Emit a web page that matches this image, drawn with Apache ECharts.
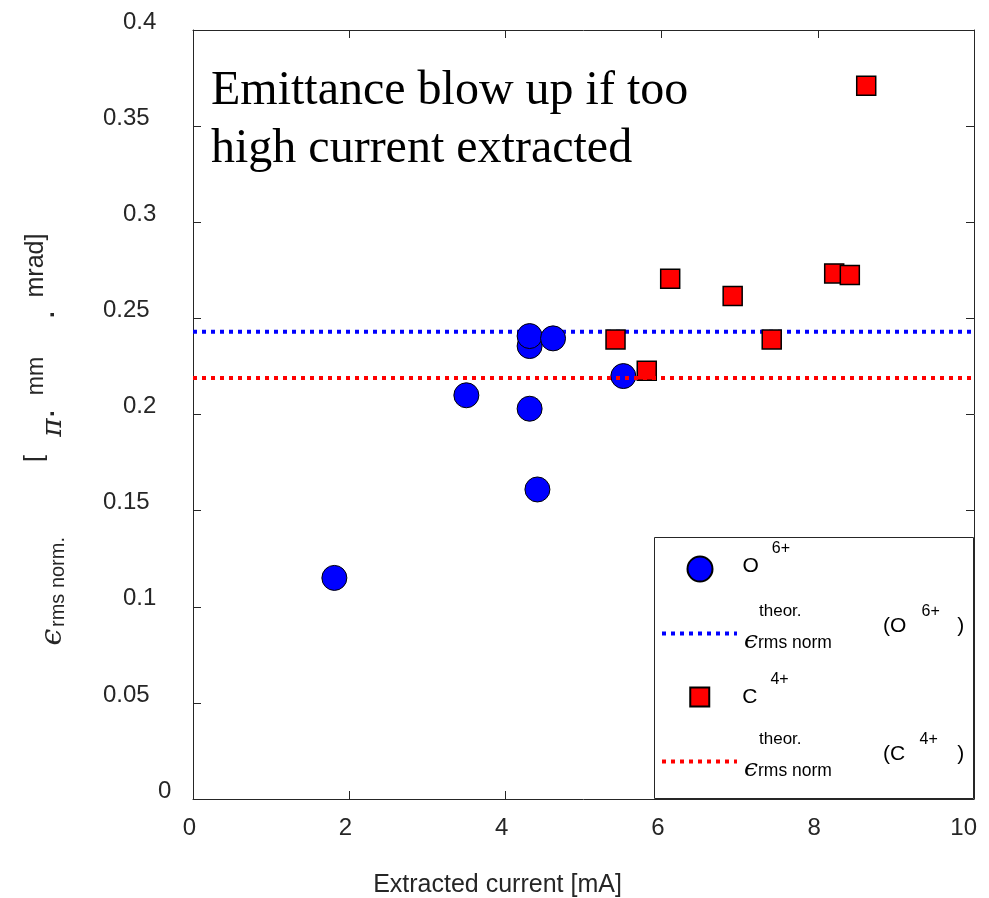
<!DOCTYPE html>
<html>
<head>
<meta charset="utf-8">
<title>Emittance vs extracted current</title>
<script src="https://cdn.jsdelivr.net/npm/echarts@6/dist/echarts.min.js"></script>
<style>
  html, body { margin: 0; padding: 0; background: #ffffff; }
  #chart { width: 989px; height: 898px; }
</style>
</head>
<body>
<div id="chart"></div>
<script>
// ---- data ----
const xRange = [0, 10];
const xTickLabels = ['0', '2', '4', '6', '8', '10'];
const yTickLabels = ['0', '0.05', '0.1', '0.15', '0.2', '0.25', '0.3', '0.35', '0.4'];

// O6+ beam: extracted current [mA] and measured normalised rms emittance
const oCurrent   = [1.81, 3.50, 4.31, 4.31, 4.61, 4.31, 4.41, 5.51];
const oEmittance = [0.115, 0.210, 0.2356, 0.2408, 0.2396, 0.203, 0.161, 0.220];

// C4+ beam
const cCurrent   = [5.41, 5.81, 6.11, 6.91, 7.41, 8.21, 8.41, 8.62];
const cEmittance = [0.239, 0.2227, 0.2706, 0.2616, 0.239, 0.2734, 0.2725, 0.371];

// theoretical normalised rms emittance for each ion
const theoryO = 0.243;
const theoryC = 0.219;

// ---- helpers ----
const SANS = 'Liberation Sans, Arial, Helvetica, sans-serif';
const SERIF = 'Liberation Serif, Times New Roman, serif';
const MATH = 'DejaVu Serif, serif';
const INK = '#262626';

const pairs = (xs, ys) => xs.map((x, i) => [x, ys[i]]);
const flatLine = (v) => xRange.map((x) => [x, v]);

// legend entry for a marker series: ion symbol with a raised charge state
function markerLegend(item, main, sup, top, left, itemHeight, padBottom) {
  return {
    data: [item], orient: 'vertical', left: left, top: top, padding: 0,
    itemWidth: 75, itemHeight: itemHeight, selectedMode: false, z: 6,
    formatter: () => '{m|' + main + '}{s|' + sup + '}',
    textStyle: {
      padding: [0, 0, padBottom, 0],
      rich: {
        m: { fontFamily: SANS, fontSize: 21, color: '#000', lineHeight: 36, verticalAlign: 'bottom' },
        s: { fontFamily: SANS, fontSize: 16, color: '#000', lineHeight: 16, verticalAlign: 'top', padding: [0, 0, 0, 13] }
      }
    }
  };
}

// legend entry for a theory line: epsilon with super/subscripts and the ion in brackets
function theoryLegend(name, ion, sup, top, supGap, closeGap) {
  return {
    data: [{ name: name, itemStyle: { opacity: 0 } }],
    orient: 'vertical', left: 660, top: top, padding: 0,
    itemWidth: 75, itemHeight: 25, selectedMode: false, z: 6,
    lineStyle: { width: 4, type: [4, 5] },
    formatter: () => '{th|theor.}{s|' + sup + '}\n{m1|(' + ion + '}{m2|)}\n{e|ϵ}{r|rms norm}',
    textStyle: {
      padding: [0, 0, 14, 0],
      rich: {
        th: { fontFamily: SANS, fontSize: 17, color: '#000', lineHeight: 16, padding: [0, 0, 0, 17] },
        s:  { fontFamily: SANS, fontSize: 16, color: '#000', lineHeight: 16, padding: [0, 0, 0, supGap] },
        m1: { fontFamily: SANS, fontSize: 21, color: '#000', lineHeight: 14, padding: [0, 0, 0, 141] },
        m2: { fontFamily: SANS, fontSize: 21, color: '#000', lineHeight: 14, padding: [0, 0, 0, closeGap] },
        e:  { fontFamily: MATH, fontStyle: 'italic', fontSize: 25, color: '#000', lineHeight: 16, padding: [0, 0, 0, 2] },
        r:  { fontFamily: SANS, fontSize: 17.5, color: '#000', lineHeight: 16, padding: [4, 0, 0, 0] }
      }
    }
  };
}

// y axis title, laid out along the rotated axis from bottom to top;
// every token is top-aligned in a 48px line and pushed down by its own padding
const tok = (fontSize, padTop, width, extra) => Object.assign({
  fontFamily: SANS, color: INK, fontSize: fontSize, lineHeight: 48, verticalAlign: 'top',
  padding: [padTop, 0, 0, 0], width: width
}, extra || {});
const yTitle = '{e|ϵ}{r|rms norm.}{g1| }{b|[}{g2| }{p|π}{d1|·}{g3| }{m|mm}{g4| }{d2|·}{g5| }{u|mrad]}';
const yTitleRich = {
  e: tok(30, 26, 20, { fontFamily: MATH, fontStyle: 'italic' }),
  r: tok(20, 36, 90),
  g1: tok(10, 0, 75),
  b: tok(25, 11, 7),
  g2: tok(10, 0, 17),
  p: tok(28, 28, 21, { fontFamily: MATH, fontStyle: 'italic' }),
  d1: tok(24, 29, 8, { fontWeight: 'bold' }),
  g3: tok(10, 0, 14),
  m: tok(23, 13, 38),
  g4: tok(10, 0, 39),
  d2: tok(24, 29, 8, { fontWeight: 'bold' }),
  g5: tok(10, 0, 12),
  u: tok(25, 12, 65)
};

const chart = echarts.init(document.getElementById('chart'), null, { renderer: 'canvas' });

chart.setOption({
  animation: false,
  backgroundColor: '#ffffff',
  title: {
    text: 'Emittance blow up if too\nhigh current extracted',
    left: 211, top: 62, padding: 0,
    textStyle: { fontFamily: SERIF, fontSize: 48, fontWeight: 'normal', color: '#000', lineHeight: 58 }
  },
  grid: { left: 193, top: 30, right: 15, bottom: 99, containLabel: false, outerBoundsMode: 'none' },
  xAxis: [
    {
      type: 'value', min: xRange[0], max: xRange[1], interval: 2, position: 'bottom',
      name: 'Extracted current [mA]', nameLocation: 'middle', nameGap: 74,
      nameTextStyle: { fontFamily: SANS, fontSize: 25, color: INK, padding: [0, 172, 0, 0] },
      axisLine: { show: true, onZero: false, lineStyle: { color: INK, width: 1 } },
      axisTick: { show: true, inside: true, length: 8, lineStyle: { color: INK, width: 1 } },
      axisLabel: {
        fontFamily: SANS, fontSize: 24, color: INK, margin: 17, align: 'right', padding: [0, -3, 0, 0],
        formatter: (v) => xTickLabels[Math.round(v / 2)]
      },
      splitLine: { show: false }
    },
    {
      type: 'value', min: xRange[0], max: xRange[1], interval: 2, position: 'top',
      axisLine: { show: true, onZero: false, lineStyle: { color: INK, width: 1 } },
      axisTick: { show: true, inside: true, length: 8, lineStyle: { color: INK, width: 1 } },
      axisLabel: { show: false }, splitLine: { show: false }
    }
  ],
  yAxis: [
    {
      type: 'value', min: 0, max: 0.4, interval: 0.05, position: 'left',
      name: yTitle, nameLocation: 'middle', nameGap: 133, nameRotate: 90,
      nameTextStyle: { padding: [0, 51, 0, 0], rich: yTitleRich },
      axisLine: { show: true, onZero: false, lineStyle: { color: INK, width: 1 } },
      axisTick: { show: true, inside: true, length: 8, lineStyle: { color: INK, width: 1 } },
      axisLabel: {
        margin: 90, align: 'left', padding: [0, 0, 16, 0],
        formatter: (v) => {
          const s = yTickLabels[Math.round(v / 0.05)];
          if (s.length === 1) return '{z|' + s + '}';
          if (s.length === 3) return '{t|' + s + '}';
          return '{f|' + s + '}';
        },
        rich: {
          z: { fontFamily: SANS, fontSize: 24, color: INK, padding: [0, 0, 0, 55] },
          t: { fontFamily: SANS, fontSize: 24, color: INK, padding: [0, 0, 0, 20] },
          f: { fontFamily: SANS, fontSize: 24, color: INK }
        }
      },
      splitLine: { show: false }
    },
    {
      type: 'value', min: 0, max: 0.4, interval: 0.05, position: 'right',
      axisLine: { show: true, onZero: false, lineStyle: { color: INK, width: 1 } },
      axisTick: { show: true, inside: true, length: 8, lineStyle: { color: INK, width: 1 } },
      axisLabel: { show: false }, splitLine: { show: false }
    }
  ],
  legend: [
    markerLegend('O6+', 'O', '6+', 540.5, 686.5, 25, 21),
    theoryLegend('theorO', 'O', '6+', 603, 120, 51),
    markerLegend({ name: 'C4+', icon: 'path://M0,0L10,0L10,10L0,10Z' }, 'C', '4+', 671.5, 689.25, 19, 15),
    theoryLegend('theorC', 'C', '4+', 731, 118, 52)
  ],
  graphic: [
    {
      type: 'rect', z: 5,
      shape: { x: 654.5, y: 537.5, width: 319, height: 261 },
      style: { fill: '#ffffff', stroke: INK, lineWidth: 1 }
    }
  ],
  series: [
    {
      name: 'theorO', type: 'line', data: flatLine(theoryO), symbol: 'none', showSymbol: false, z: 1, silent: true,
      itemStyle: { color: '#0000ff' },
      lineStyle: { color: '#0000ff', width: 4, type: [4, 5] }
    },
    {
      name: 'O6+', type: 'scatter', data: pairs(oCurrent, oEmittance), symbol: 'circle', symbolSize: 25, z: 2,
      itemStyle: { color: '#0000ff', borderColor: '#000000', borderWidth: 1, opacity: 1 }
    },
    {
      name: 'C4+', type: 'scatter', data: pairs(cCurrent, cEmittance), symbol: 'rect', symbolSize: 19, z: 3,
      itemStyle: { color: '#ff0000', borderColor: '#000000', borderWidth: 1.5, opacity: 1 }
    },
    {
      name: 'theorC', type: 'line', data: flatLine(theoryC), symbol: 'none', showSymbol: false, z: 4, silent: true,
      itemStyle: { color: '#ff0000' },
      lineStyle: { color: '#ff0000', width: 4, type: [4, 5] }
    }
  ]
});
</script>
</body>
</html>
